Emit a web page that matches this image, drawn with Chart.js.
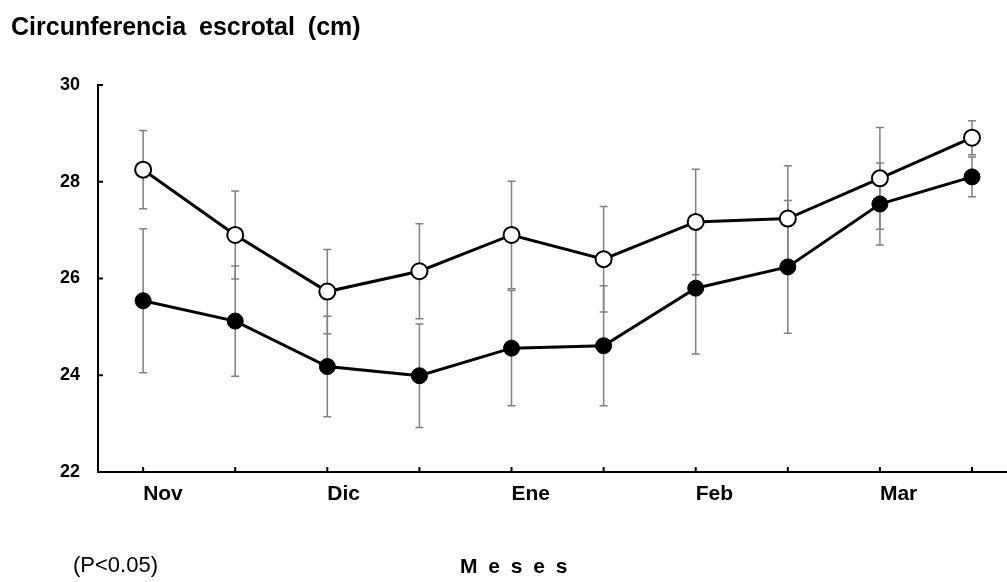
<!DOCTYPE html>
<html>
<head>
<meta charset="utf-8">
<script src="https://cdn.jsdelivr.net/npm/chart.js@4.4.0/dist/chart.umd.min.js"></script>
<style>
  body { margin: 0; background: #fff; }
  .wrap { position: relative; width: 1007px; height: 582px; font-family: 'Liberation Sans', Arial, sans-serif; }
  canvas { position: absolute; left: 0; top: 0; }
  .txt { position: absolute; line-height: 1; white-space: pre; color: #000; }
</style>
</head>
<body>
<div class="wrap">
  <canvas id="myChart" width="1007" height="582"></canvas>
  <div class="txt" style="left:11px; top:14px; font-size:25px; font-weight:bold; word-spacing:6px;">Circunferencia escrotal (cm)</div>
  <div class="txt" style="left:73px; top:554px; font-size:22px;">(P&lt;0.05)</div>
  <div class="txt" style="left:460px; top:555px; font-size:21px; font-weight:bold; letter-spacing:2.5px;">M e s e s</div>
</div>
<script>
// two samples per month, only the first one gets a label
const sampleLabels = ['Nov', '', 'Dic', '', 'Ene', '', 'Feb', '', 'Mar', ''];
const yTicks = [22, 24, 26, 28, 30];

// open circles
const openValues = [28.25, 26.90, 25.73, 26.15, 26.90, 26.40, 27.17, 27.24, 28.07, 28.91];
const openErr = [0.81, 0.91, 0.87, 0.98, 1.11, 1.09, 1.09, 1.09, 1.05, 0.35];

// filled circles
const filledValues = [25.54, 25.12, 24.18, 23.99, 24.56, 24.61, 25.80, 26.24, 27.54, 28.10];
const filledErr = [1.49, 1.14, 1.04, 1.07, 1.19, 1.24, 1.36, 1.37, 0.85, 0.41];

const toPoints = (vals) => vals.map((v, i) => ({ x: i, y: v }));

// error bars go under the lines
const errorBars = {
  id: 'errorBars',
  beforeDatasetsDraw(chart) {
    const ctx = chart.ctx;
    const xs = chart.scales.x, ys = chart.scales.y;
    ctx.save();
    ctx.strokeStyle = '#808080';
    ctx.lineWidth = 1.5;
    chart.data.datasets.forEach((ds) => {
      ds.data.forEach((p, i) => {
        const e = ds.errors[i];
        const x = xs.getPixelForValue(p.x);
        const y1 = ys.getPixelForValue(p.y + e);
        const y2 = ys.getPixelForValue(p.y - e);
        ctx.beginPath();
        ctx.moveTo(x, y1); ctx.lineTo(x, y2);
        ctx.moveTo(x - 4, y1); ctx.lineTo(x + 4, y1);
        ctx.moveTo(x - 4, y2); ctx.lineTo(x + 4, y2);
        ctx.stroke();
      });
    });
    ctx.restore();
  }
};

// small tick marks pointing into the plot
const innerTicks = {
  id: 'innerTicks',
  afterDraw(chart) {
    const ctx = chart.ctx;
    const xs = chart.scales.x, ys = chart.scales.y;
    const a = chart.chartArea;
    ctx.save();
    ctx.strokeStyle = '#000';
    ctx.lineWidth = 2;
    ctx.beginPath();
    yTicks.forEach((t) => {
      const y = ys.getPixelForValue(t);
      ctx.moveTo(a.left, y); ctx.lineTo(a.left + 5, y);
    });
    sampleLabels.forEach((l, i) => {
      const x = xs.getPixelForValue(i);
      ctx.moveTo(x, a.bottom); ctx.lineTo(x, a.bottom - 5);
    });
    ctx.stroke();
    ctx.restore();
  }
};

const config = {
  type: 'line',
  data: {
    datasets: [
      {
        label: 'filled',
        data: toPoints(filledValues),
        errors: filledErr,
        borderColor: '#000',
        borderWidth: 3,
        pointRadius: 8,
        pointBackgroundColor: '#000',
        pointBorderColor: '#000',
        pointBorderWidth: 1,
        clip: false
      },
      {
        label: 'open',
        data: toPoints(openValues),
        errors: openErr,
        borderColor: '#000',
        borderWidth: 3,
        pointRadius: 8,
        pointBackgroundColor: '#fff',
        pointBorderColor: '#000',
        pointBorderWidth: 2,
        clip: false
      }
    ]
  },
  options: {
    responsive: false,
    animation: false,
    layout: { autoPadding: false, padding: { top: 85, right: 0, bottom: 0, left: 0 } },
    plugins: { legend: { display: false }, tooltip: { enabled: false } },
    scales: {
      x: {
        type: 'linear',
        min: -0.49,
        max: 9.38,
        grid: { display: false },
        border: { display: true, color: '#000', width: 2 },
        afterBuildTicks(scale) {
          scale.ticks = sampleLabels.map((l, i) => ({ value: i }));
        },
        afterFit(scale) {
          scale.height = 110;
          scale.paddingRight = 0;
          scale.paddingLeft = 0;
        },
        ticks: {
          autoSkip: false,
          maxRotation: 0,
          align: 'start',
          padding: 2,
          color: '#000',
          font: { family: 'Liberation Sans', size: 21, weight: 'bold' },
          callback: (v) => sampleLabels[v]
        }
      },
      y: {
        min: 22,
        max: 30,
        grid: { display: false },
        border: { display: true, color: '#000', width: 2 },
        afterFit(scale) { scale.width = 98; },
        ticks: {
          stepSize: 2,
          padding: 10,
          color: '#000',
          font: { family: 'Liberation Sans', size: 18, weight: 'bold' }
        }
      }
    }
  },
  plugins: [errorBars, innerTicks]
};

new Chart(document.getElementById('myChart').getContext('2d'), config);
</script>
</body>
</html>
